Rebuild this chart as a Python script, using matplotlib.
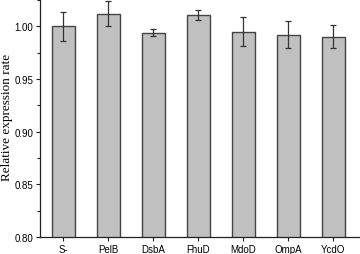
import matplotlib
matplotlib.use("Agg")
import matplotlib.pyplot as plt
from matplotlib.ticker import MultipleLocator

categories = ["S-", "PelB", "DsbA", "FhuD", "MdoD", "OmpA", "YcdO"]
values = [1.000, 1.012, 0.994, 1.011, 0.995, 0.992, 0.990]
errors = [0.0135, 0.012, 0.0036, 0.005, 0.0136, 0.013, 0.011]

fig = plt.figure(figsize=(3.6, 2.55), dpi=100)
ax = fig.add_axes([40/360, 17/255, 320/360, 238/255])
x = list(range(len(categories)))
ax.bar(x, values, width=0.51, color="#c0c0c0", edgecolor="#444444", linewidth=1.0,
       yerr=errors, error_kw=dict(ecolor="#333333", elinewidth=0.9, capsize=2.5, capthick=0.9))
ax.set_ylim(0.80, 1.026)
ax.set_xlim(-0.52, 6.59)
ax.set_xticks(x)
ax.set_xticklabels(categories, fontsize=7, family="Liberation Sans")
ax.yaxis.set_major_locator(MultipleLocator(0.05))
ax.yaxis.set_minor_locator(MultipleLocator(0.025))
ax.set_yticks([0.80, 0.85, 0.90, 0.95, 1.00])
ax.set_yticklabels(["0.80", "0.85", "0.90", "0.95", "1.00"], fontsize=7, family="Liberation Sans")
ax.spines["top"].set_visible(False)
ax.spines["right"].set_visible(False)
for s in ["left", "bottom"]:
    ax.spines[s].set_color("#222222")
    ax.spines[s].set_linewidth(0.9)
ax.tick_params(axis="both", which="major", length=3, width=0.8, pad=2, color="#222222")
ax.tick_params(axis="y", which="minor", length=2, width=0.8, color="#222222")
ax.set_ylabel("Relative expression rate", fontsize=9.5, family="Liberation Serif")
ax.yaxis.set_label_coords(-0.083, 0.505)
fig.savefig("out.png", dpi=100)
